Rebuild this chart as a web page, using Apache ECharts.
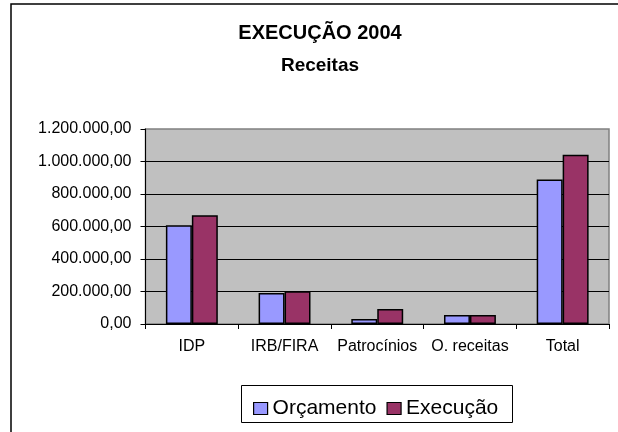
<!DOCTYPE html>
<html>
<head>
<meta charset="utf-8">
<script src="https://cdn.jsdelivr.net/npm/echarts@6/dist/echarts.min.js"></script>
<style>html,body{margin:0;padding:0;background:#fff}#c{width:618px;height:432px}</style>
</head>
<body>
<div id="c"></div>
<script>
var categories = ['IDP', 'IRB/FIRA', 'Patrocínios', 'O. receitas', 'Total'];
var orcamento = [607000, 191000, 31000, 55000, 890000];
var execucao = [669000, 201000, 92000, 55000, 1042000];
var seriesNames = ['Orçamento', 'Execução'];
var titleText = 'EXECUÇÃO 2004';
var subtitleText = 'Receitas';

function fmt(v) {
  var s = Math.round(v).toString().replace(/\B(?=(\d{3})+(?!\d))/g, '.');
  return s + ',00';
}

var chart = echarts.init(document.getElementById('c'));
var FONT = '"Liberation Sans", Arial, sans-serif';
chart.setOption({
  animation: false,
  backgroundColor: '#fff',
  graphic: [
    { type: 'rect', shape: { x: 11, y: 4, width: 640, height: 460 }, style: { fill: 'none', stroke: '#000', lineWidth: 1.5 }, z: 100 },
    { type: 'rect', shape: { x: 241.5, y: 385.5, width: 271, height: 37 }, style: { fill: '#fff', stroke: '#000', lineWidth: 1 }, z: 0 },
    { type: 'text', x: 320, y: 33, style: { text: titleText, fill: '#000', font: 'bold 20px ' + FONT, align: 'center', verticalAlign: 'middle' } },
    { type: 'text', x: 320, y: 66, style: { text: subtitleText, fill: '#000', font: 'bold 19px ' + FONT, align: 'center', verticalAlign: 'middle' } }
  ],
  legend: {
    data: seriesNames,
    left: 248, top: 393,
    itemWidth: 14, itemHeight: 12, itemGap: 10,
    icon: 'rect',
    itemStyle: { borderColor: '#000', borderWidth: 1.2 },
    textStyle: { fontFamily: FONT, fontSize: 21, color: '#000' },
    z: 10
  },
  grid: {
    left: 145.5, right: 9, top: 129, bottom: 108,
    show: true, backgroundColor: '#C0C0C0', borderColor: '#808080', borderWidth: 1.5
  },
  xAxis: {
    type: 'category', data: categories,
    axisLine: { lineStyle: { color: '#000', width: 1 } },
    axisTick: { show: true, length: 5, lineStyle: { color: '#000' } },
    axisLabel: { color: '#000', fontFamily: FONT, fontSize: 16, margin: 15, interval: 0, hideOverlap: false }
  },
  yAxis: {
    type: 'value', min: 0, max: 1200000, interval: 200000,
    axisLine: { show: true, lineStyle: { color: '#000', width: 1 } },
    axisTick: { show: true, length: 5, lineStyle: { color: '#000' } },
    axisLabel: { color: '#000', fontFamily: FONT, fontSize: 16, margin: 14, formatter: fmt },
    splitLine: { show: true, showMaxLine: false, lineStyle: { color: '#000', width: 1 } }
  },
  series: [
    { name: seriesNames[0], type: 'bar', data: orcamento, barGap: '0%', barCategoryGap: '44%',
      itemStyle: { color: '#9999FF', borderColor: '#000', borderWidth: 1.5 } },
    { name: seriesNames[1], type: 'bar', data: execucao, barGap: '0%', barCategoryGap: '44%',
      itemStyle: { color: '#993366', borderColor: '#000', borderWidth: 1.5 } }
  ]
});
</script>
</body>
</html>
